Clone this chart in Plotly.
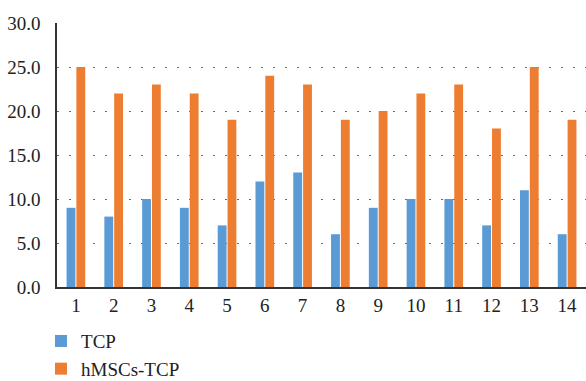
import plotly.graph_objects as go

categories = [str(i) for i in range(1, 15)]
tcp = [9, 8, 10, 9, 7, 12, 13, 6, 9, 10, 10, 7, 11, 6]
hmscs_tcp = [25, 22, 23, 22, 19, 24, 23, 19, 20, 22, 23, 18, 25, 19]
y_ticks = [0, 5, 10, 15, 20, 25, 30]

font_family = "Liberation Serif"

fig = go.Figure()
fig.add_trace(go.Bar(x=categories, y=tcp, name="TCP",
                     marker=dict(color="#5B9BD5", line=dict(width=0))))
fig.add_trace(go.Bar(x=categories, y=hmscs_tcp, name="hMSCs-TCP",
                     marker=dict(color="#ED7D31", line=dict(width=0))))

fig.update_layout(
    width=586, height=381,
    margin=dict(l=57, r=0, t=23, b=94, autoexpand=False),
    paper_bgcolor="white", plot_bgcolor="white",
    barmode="group", bargap=0.48, bargroupgap=0.1,
    font=dict(family=font_family, size=19, color="#222222"),
    showlegend=True,
    legend=dict(orientation="v", xref="container", x=0.07, y=-0.133,
                yanchor="top", xanchor="left",
                font=dict(family=font_family, size=19, color="#222222"),
                itemwidth=30, tracegroupgap=0, bgcolor="rgba(0,0,0,0)"),
)

fig.update_xaxes(
    showline=True, linecolor="#333333", linewidth=1.5,
    showgrid=False, ticks="", tickfont=dict(size=19),
)
fig.update_yaxes(
    range=[0, 30], tickvals=y_ticks, tickformat=".1f",
    showline=True, linecolor="#333333", linewidth=1.5,
    showgrid=True, gridcolor="#666666", gridwidth=1.4, griddash="1.6px,10.4px",
    zeroline=False, ticks="", ticklabelstandoff=11, tickfont=dict(size=19),
)

fig.write_html("out.html")
